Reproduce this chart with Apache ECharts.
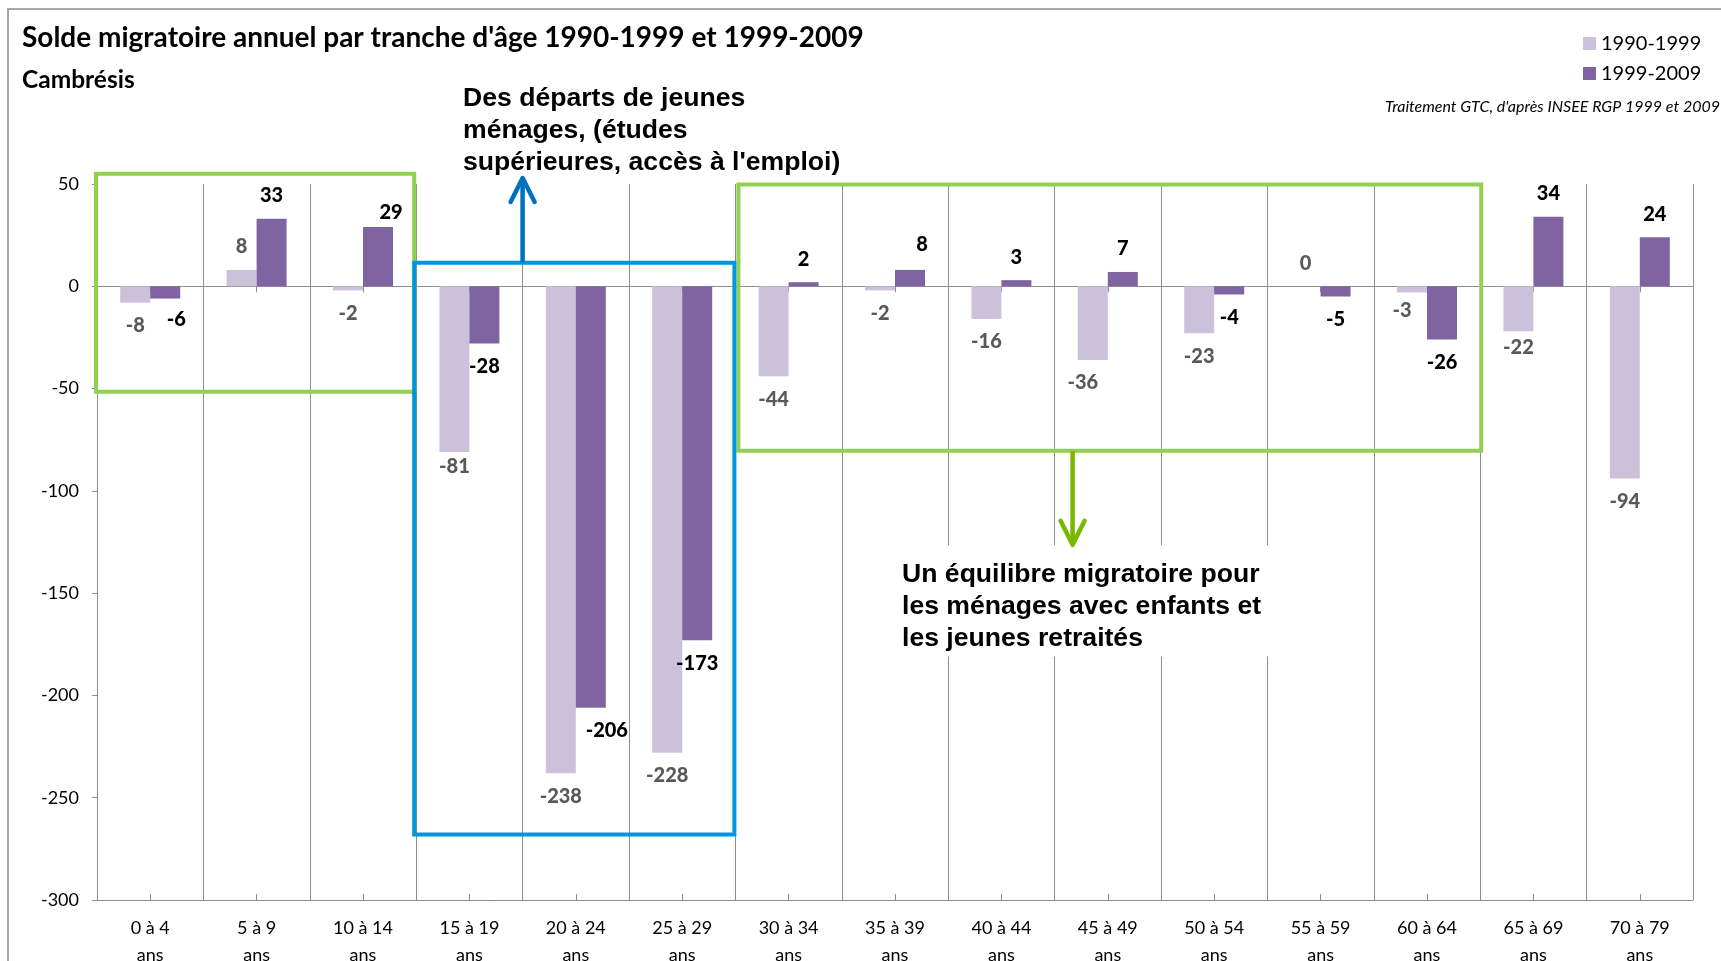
<!DOCTYPE html>
<html><head><meta charset="utf-8">
<script src="https://cdn.jsdelivr.net/npm/echarts@6/dist/echarts.min.js"></script>
<style>html,body{margin:0;padding:0;background:#fff}#c{width:1721px;height:961px}</style>
</head><body><div id="c"></div>
<script>
// ---- data ----
const categories = ['0 à 4 ans','5 à 9 ans','10 à 14 ans','15 à 19 ans','20 à 24 ans','25 à 29 ans','30 à 34 ans','35 à 39 ans','40 à 44 ans','45 à 49 ans','50 à 54 ans','55 à 59 ans','60 à 64 ans','65 à 69 ans','70 à 79 ans'];
const seriesNames = ['1990-1999', '1999-2009'];
const values1990 = [-8, 8, -2, -81, -238, -228, -44, -2, -16, -36, -23, 0, -3, -22, -94];
const values1999 = [-6, 33, 29, -28, -206, -173, 2, 8, 3, 7, -4, -5, -26, 34, 24];
const yMin = -300, yMax = 50, yStep = 50;
const titleText = "Solde migratoire annuel par tranche d'âge 1990-1999 et 1999-2009";
const subtitleText = 'Cambrésis';
const sourceText = "Traitement GTC, d'après INSEE RGP 1999 et 2009";
const noteTop = ['Des départs de jeunes', 'ménages, (études', "supérieures, accès à l'emploi)"];
const noteBottom = ['Un équilibre migratoire pour', 'les ménages avec enfants et', 'les jeunes retraités'];

// ---- styling (label nudges in px, per bar index) ----
const nudge1990 = {3: [0, -8], 9: [-10, 0], 12: [-10, -5], 13: [0, -7]};
const nudge1999 = {0: [11, -2], 2: [13, 9], 4: [16, 0], 7: [12, -2]};
const FONT = 'Lato, "Open Sans", sans-serif';
const ANNOT = '"Liberation Sans", Arial, sans-serif';
const GRID_GRAY = '#8E8E8E';

function items(vals, nudge) {
  return vals.map((v, i) => ({
    value: v,
    label: {position: v >= 0 ? 'top' : 'bottom', offset: nudge[i] || [0, 0]}
  }));
}

const chart = echarts.init(document.getElementById('c'), null, {renderer: 'canvas'});

const catAxisBase = {type: 'category', data: categories, gridIndex: 0};
const option = {
  animation: false,
  backgroundColor: '#fff',
  title: [
    {text: titleText, left: 22, top: 21, padding: 0, textStyle: {fontFamily: FONT, fontWeight: 'bold', fontSize: 28, color: '#000', lineHeight: 34}},
    {text: subtitleText, left: 22, top: 65, padding: 0, textStyle: {fontFamily: FONT, fontWeight: 'bold', fontSize: 24.5, color: '#000', lineHeight: 30}}
  ],
  legend: {
    orient: 'vertical', left: 1583, top: 31.5, padding: 0, itemWidth: 13, itemHeight: 13, itemGap: 6,
    icon: 'rect', data: seriesNames,
    textStyle: {fontFamily: FONT, fontSize: 20, color: '#000', lineHeight: 24}
  },
  grid: {left: 97, right: 28, top: 184, bottom: 61, containLabel: false, outerBoundsMode: 'none'},
  xAxis: [
    Object.assign({}, catAxisBase, {
      position: 'bottom',
      axisLine: {show: false, onZero: false},
      axisTick: {show: false},
      splitLine: {show: true, interval: 0, lineStyle: {color: GRID_GRAY, width: 1}},
      axisLabel: {interval: 0, margin: 15, fontFamily: FONT, fontSize: 18, color: '#000', lineHeight: 27,
        formatter: v => v.replace(' ans', '\nans')}
    }),
    Object.assign({}, catAxisBase, {
      position: 'bottom',
      axisLine: {show: true, onZero: true, lineStyle: {color: GRID_GRAY, width: 1}},
      axisTick: {show: true, alignWithLabel: true, length: 6, lineStyle: {color: GRID_GRAY}},
      axisLabel: {show: false}, splitLine: {show: false}
    }),
    Object.assign({}, catAxisBase, {
      position: 'bottom',
      axisLine: {show: true, onZero: true, lineStyle: {color: GRID_GRAY, width: 1}},
      axisTick: {show: true, inside: true, alignWithLabel: true, length: 6, lineStyle: {color: GRID_GRAY}},
      axisLabel: {show: false}, splitLine: {show: false}
    })
  ],
  yAxis: {
    type: 'value', min: yMin, max: yMax, interval: yStep,
    axisLine: {show: true, lineStyle: {color: GRID_GRAY, width: 1}},
    axisTick: {show: true, length: 5, lineStyle: {color: GRID_GRAY}},
    splitLine: {show: false},
    axisLabel: {margin: 18, fontFamily: FONT, fontSize: 18, color: '#000'}
  },
  series: [
    {
      name: seriesNames[0], type: 'bar', xAxisIndex: 0, barWidth: 30, barGap: '0%',
      itemStyle: {color: '#CCC1DA'},
      label: {show: true, distance: 12, fontFamily: FONT, fontWeight: 900, fontSize: 20, lineHeight: 22, color: '#595959'},
      data: items(values1990, nudge1990)
    },
    {
      name: seriesNames[1], type: 'bar', xAxisIndex: 0, barWidth: 30, barGap: '0%',
      itemStyle: {color: '#8064A2'},
      label: {show: true, distance: 12, fontFamily: FONT, fontWeight: 900, fontSize: 20, lineHeight: 22, color: '#000'},
      data: items(values1999, nudge1999)
    }
  ]
};
chart.setOption(option);

// ---- annotations placed through the chart's own scales ----
const c0 = chart.convertToPixel({xAxisIndex: 0}, 0);
const bw = chart.convertToPixel({xAxisIndex: 0}, 1) - c0;
const bx = i => c0 + (i - 0.5) * bw;      // left boundary of category i
const py = v => chart.convertToPixel({yAxisIndex: 0}, v);

function box(x1, y1, x2, y2, color) {
  return {type: 'rect', z: 100, shape: {x: x1, y: y1, width: x2 - x1, height: y2 - y1},
    style: {fill: 'none', stroke: color, lineWidth: 4}};
}
function arrow(x, yFrom, yTo, color) {
  const dir = yTo < yFrom ? 1 : -1;
  return [
    {type: 'line', z: 101, shape: {x1: x, y1: yFrom, x2: x, y2: yTo + dir * 2},
      style: {stroke: color, lineWidth: 4.5}},
    {type: 'polyline', z: 101, shape: {points: [[x - 12, yTo + dir * 24], [x, yTo], [x + 12, yTo + dir * 24]]},
      style: {fill: 'none', stroke: color, lineWidth: 4.5, lineCap: 'round', lineJoin: 'round'}}
  ];
}
function note(lines, x, yTop) {
  return {type: 'text', z: 102, x: x, y: yTop,
    style: {text: lines.join('\n'), font: 'bold 26.6px ' + ANNOT, lineHeight: 32, fill: '#000', verticalAlign: 'top', align: 'left'}};
}

const g = [];
// outer frame (top & left)
g.push({type: 'polyline', z: 1, shape: {points: [[8, 961], [8, 9], [1721, 9]]}, style: {fill: 'none', stroke: '#A6A6A6', lineWidth: 2}});
// source note
g.push({type: 'text', z: 50, x: 1720, y: 107, style: {text: sourceText, font: 'italic 16px ' + FONT, fill: '#000', align: 'right', verticalAlign: 'middle'}});
// green box 1 (0–14 ans)
g.push(box(bx(0) - 1, py(55), bx(3) - 2, py(-51.5), '#92D050'));
// green box 2 (30–64 ans)
g.push(box(bx(6) + 3, py(49.7), bx(13) + 1, py(-80.4), '#92D050'));
// blue box (15–29 ans)
g.push(box(bx(3) - 2, py(11.5), bx(6) - 1, py(-268), '#0096DC'));
// blue arrow and note
arrow(bx(4), py(11.5), 178, '#0070C0').forEach(e => g.push(e));
g.push(note(noteTop, 463, 82.5));
// green arrow, white backing and note
arrow(bx(9) + 18, py(-80.4), py(-126.4), '#7AB800').forEach(e => g.push(e));
g.push({type: 'rect', z: 90, shape: {x: 893, y: py(-126.6), width: 382, height: py(-181) - py(-126.6)}, style: {fill: '#fff'}});
g.push(note(noteBottom, 902, 558.5));

chart.setOption({graphic: {elements: g}});
</script>
</body></html>
